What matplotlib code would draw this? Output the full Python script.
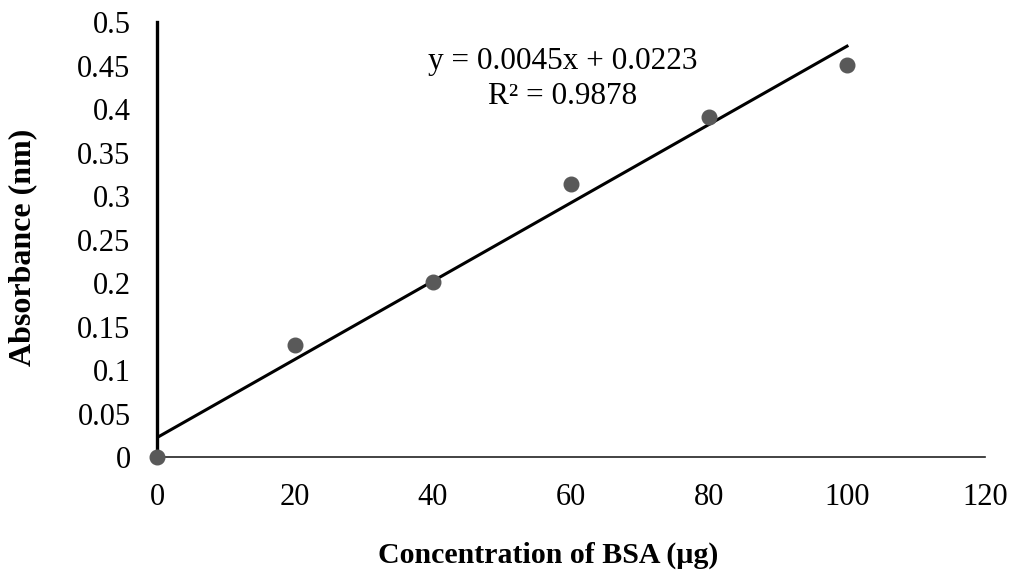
import matplotlib.pyplot as plt

# calibration data
conc = [0, 20, 40, 60, 80, 100]
absorb = [0.0, 0.129, 0.201, 0.314, 0.391, 0.451]
slope = 0.0045
intercept = 0.0223
r2 = 0.9878

x_ticks = [0, 20, 40, 60, 80, 100, 120]
y_ticks = [0, 0.05, 0.1, 0.15, 0.2, 0.25, 0.3, 0.35, 0.4, 0.45, 0.5]
y_tick_labels = ["0", "0.05", "0.1", "0.15", "0.2", "0.25", "0.3", "0.35", "0.4", "0.45", "0.5"]

plt.rcParams['font.family'] = ['Liberation Serif', 'DejaVu Serif']

fig = plt.figure(figsize=(10.16, 5.81), dpi=100)
ax = fig.add_axes([0.1545, 0.2134, 0.815, 0.7486])

# trend line
fit_x = [conc[0], conc[-1]]
fit_y = [slope * v + intercept for v in fit_x]
ax.plot(fit_x, fit_y, color="black", linewidth=2.2, zorder=2)

ax.plot(conc, absorb, "o", color="#595959", markersize=10.5, clip_on=False, zorder=3)

ax.set_xlim(0, 120)
ax.set_ylim(0, 0.5)
ax.set_xticks(x_ticks)
ax.set_yticks(y_ticks)
ax.set_yticklabels(y_tick_labels)
ax.tick_params(length=0, labelsize=22)
ax.tick_params(axis="y", pad=19)
ax.tick_params(axis="x", pad=19)

for side in ["top", "right"]:
    ax.spines[side].set_visible(False)
ax.spines["left"].set_linewidth(2.4)
ax.spines["bottom"].set_linewidth(1.2)
ax.spines["bottom"].set_color("#222222")

ax.text(58.8, 0.455, f"y = {slope}x + {intercept}", fontsize=22.5, ha="center", va="center")
ax.text(58.8, 0.414, f"R\u00b2 = {r2}", fontsize=22.5, ha="center", va="center")

fig.text(0.54, 0.045, "Concentration of BSA (\u00b5g)", fontsize=21.5, fontweight="bold", ha="center", va="center")
fig.text(0.022, 0.575, "Absorbance (nm)", fontsize=23, fontweight="bold", ha="center", va="center", rotation=90)

fig.savefig("out.png", dpi=100)
